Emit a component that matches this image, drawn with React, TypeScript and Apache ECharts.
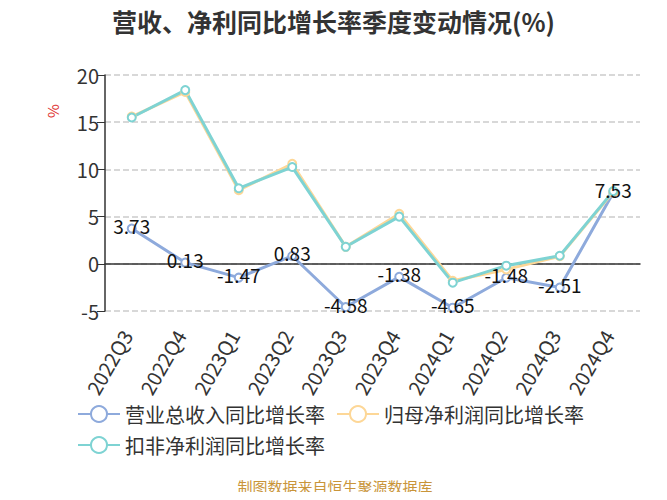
import { useEffect, useRef } from 'react'
import * as echarts from 'echarts'

const quarters = ['2022Q3', '2022Q4', '2023Q1', '2023Q2', '2023Q3', '2023Q4', '2024Q1', '2024Q2', '2024Q3', '2024Q4']
const revenueGrowth = [3.73, 0.13, -1.47, 0.83, -4.58, -1.38, -4.65, -1.48, -2.51, 7.53]
const netProfitGrowth = [15.6, 18.2, 7.8, 10.6, 1.8, 5.3, -1.8, -0.6, 0.8, 7.6]
const deductedProfitGrowth = [15.5, 18.4, 8.0, 10.25, 1.8, 5.0, -2.0, -0.2, 0.85, 7.7]
const seriesNames = ['营业总收入同比增长率', '归母净利润同比增长率', '扣非净利润同比增长率']

const FONT = '"Noto Sans CJK SC", "Noto Sans", sans-serif'

export default function App() {
  const chartRef = useRef<HTMLDivElement>(null)

  useEffect(() => {
    if (!chartRef.current) return
    const chart = echarts.init(chartRef.current, null, { renderer: 'svg' })

    const lineSeries = (name: string, data: number[], color: string, withLabel: boolean) => ({
      name,
      type: 'line',
      data,
      symbol: 'emptyCircle',
      symbolSize: 8,
      lineStyle: { color, width: 3 },
      itemStyle: { color, borderWidth: 1.5 },
      label: withLabel
        ? {
            show: true,
            position: 'inside',
            offset: [0, -3],
            color: '#111',
            fontSize: 19,
            fontFamily: FONT
          }
        : { show: false }
    })

    chart.setOption({
      animation: false,
      textStyle: { fontFamily: FONT },
      title: {
        text: '营收、净利同比增长率季度变动情况(%)',
        left: 'center',
        top: 3,
        textStyle: { fontSize: 25, fontWeight: 'bold', color: '#333', fontFamily: FONT }
      },
      grid: { left: 105, right: 27, top: 75, bottom: 189 },
      legend: {
        data: seriesNames,
        left: 72,
        top: 399,
        width: 560,
        itemWidth: 42,
        itemHeight: 20,
        itemGap: 11,
        textStyle: { fontSize: 20, color: '#333', fontFamily: FONT }
      },
      xAxis: {
        type: 'category',
        data: quarters,
        axisLine: { lineStyle: { color: '#333', width: 1.5 } },
        axisTick: { length: 6, lineStyle: { color: '#333' } },
        axisLabel: {
          rotate: 60,
          fontSize: 20,
          color: '#333',
          margin: 12,
          padding: [0, 10, 0, 0],
          fontFamily: FONT
        }
      },
      yAxis: {
        type: 'value',
        min: -5,
        max: 20,
        interval: 5,
        axisLine: { show: true, lineStyle: { color: '#333', width: 1.5 } },
        axisTick: { show: true, length: 8, lineStyle: { color: '#333' } },
        axisLabel: { fontSize: 20, color: '#333', margin: 6, fontFamily: FONT },
        splitLine: { lineStyle: { type: 'dashed', color: '#ccc', width: 1.5 } }
      },
      graphic: [
        {
          type: 'text',
          x: 45,
          y: 118,
          rotation: Math.PI / 2,
          style: { text: '%', fill: '#e03030', fontSize: 15, fontFamily: FONT }
        },
        {
          type: 'text',
          x: 335,
          y: 486,
          style: {
            text: '制图数据来自恒生聚源数据库',
            fill: '#c9953a',
            fontSize: 15,
            fontFamily: FONT,
            align: 'center',
            verticalAlign: 'middle'
          }
        }
      ],
      series: [
        lineSeries(seriesNames[0], revenueGrowth, '#8eaadc', true),
        lineSeries(seriesNames[1], netProfitGrowth, '#fdd797', false),
        lineSeries(seriesNames[2], deductedProfitGrowth, '#7ed3d3', false)
      ]
    })

    return () => {
      chart.dispose()
    }
  }, [])

  return <div ref={chartRef} style={{ width: 667, height: 500, margin: -8 }} />
}
